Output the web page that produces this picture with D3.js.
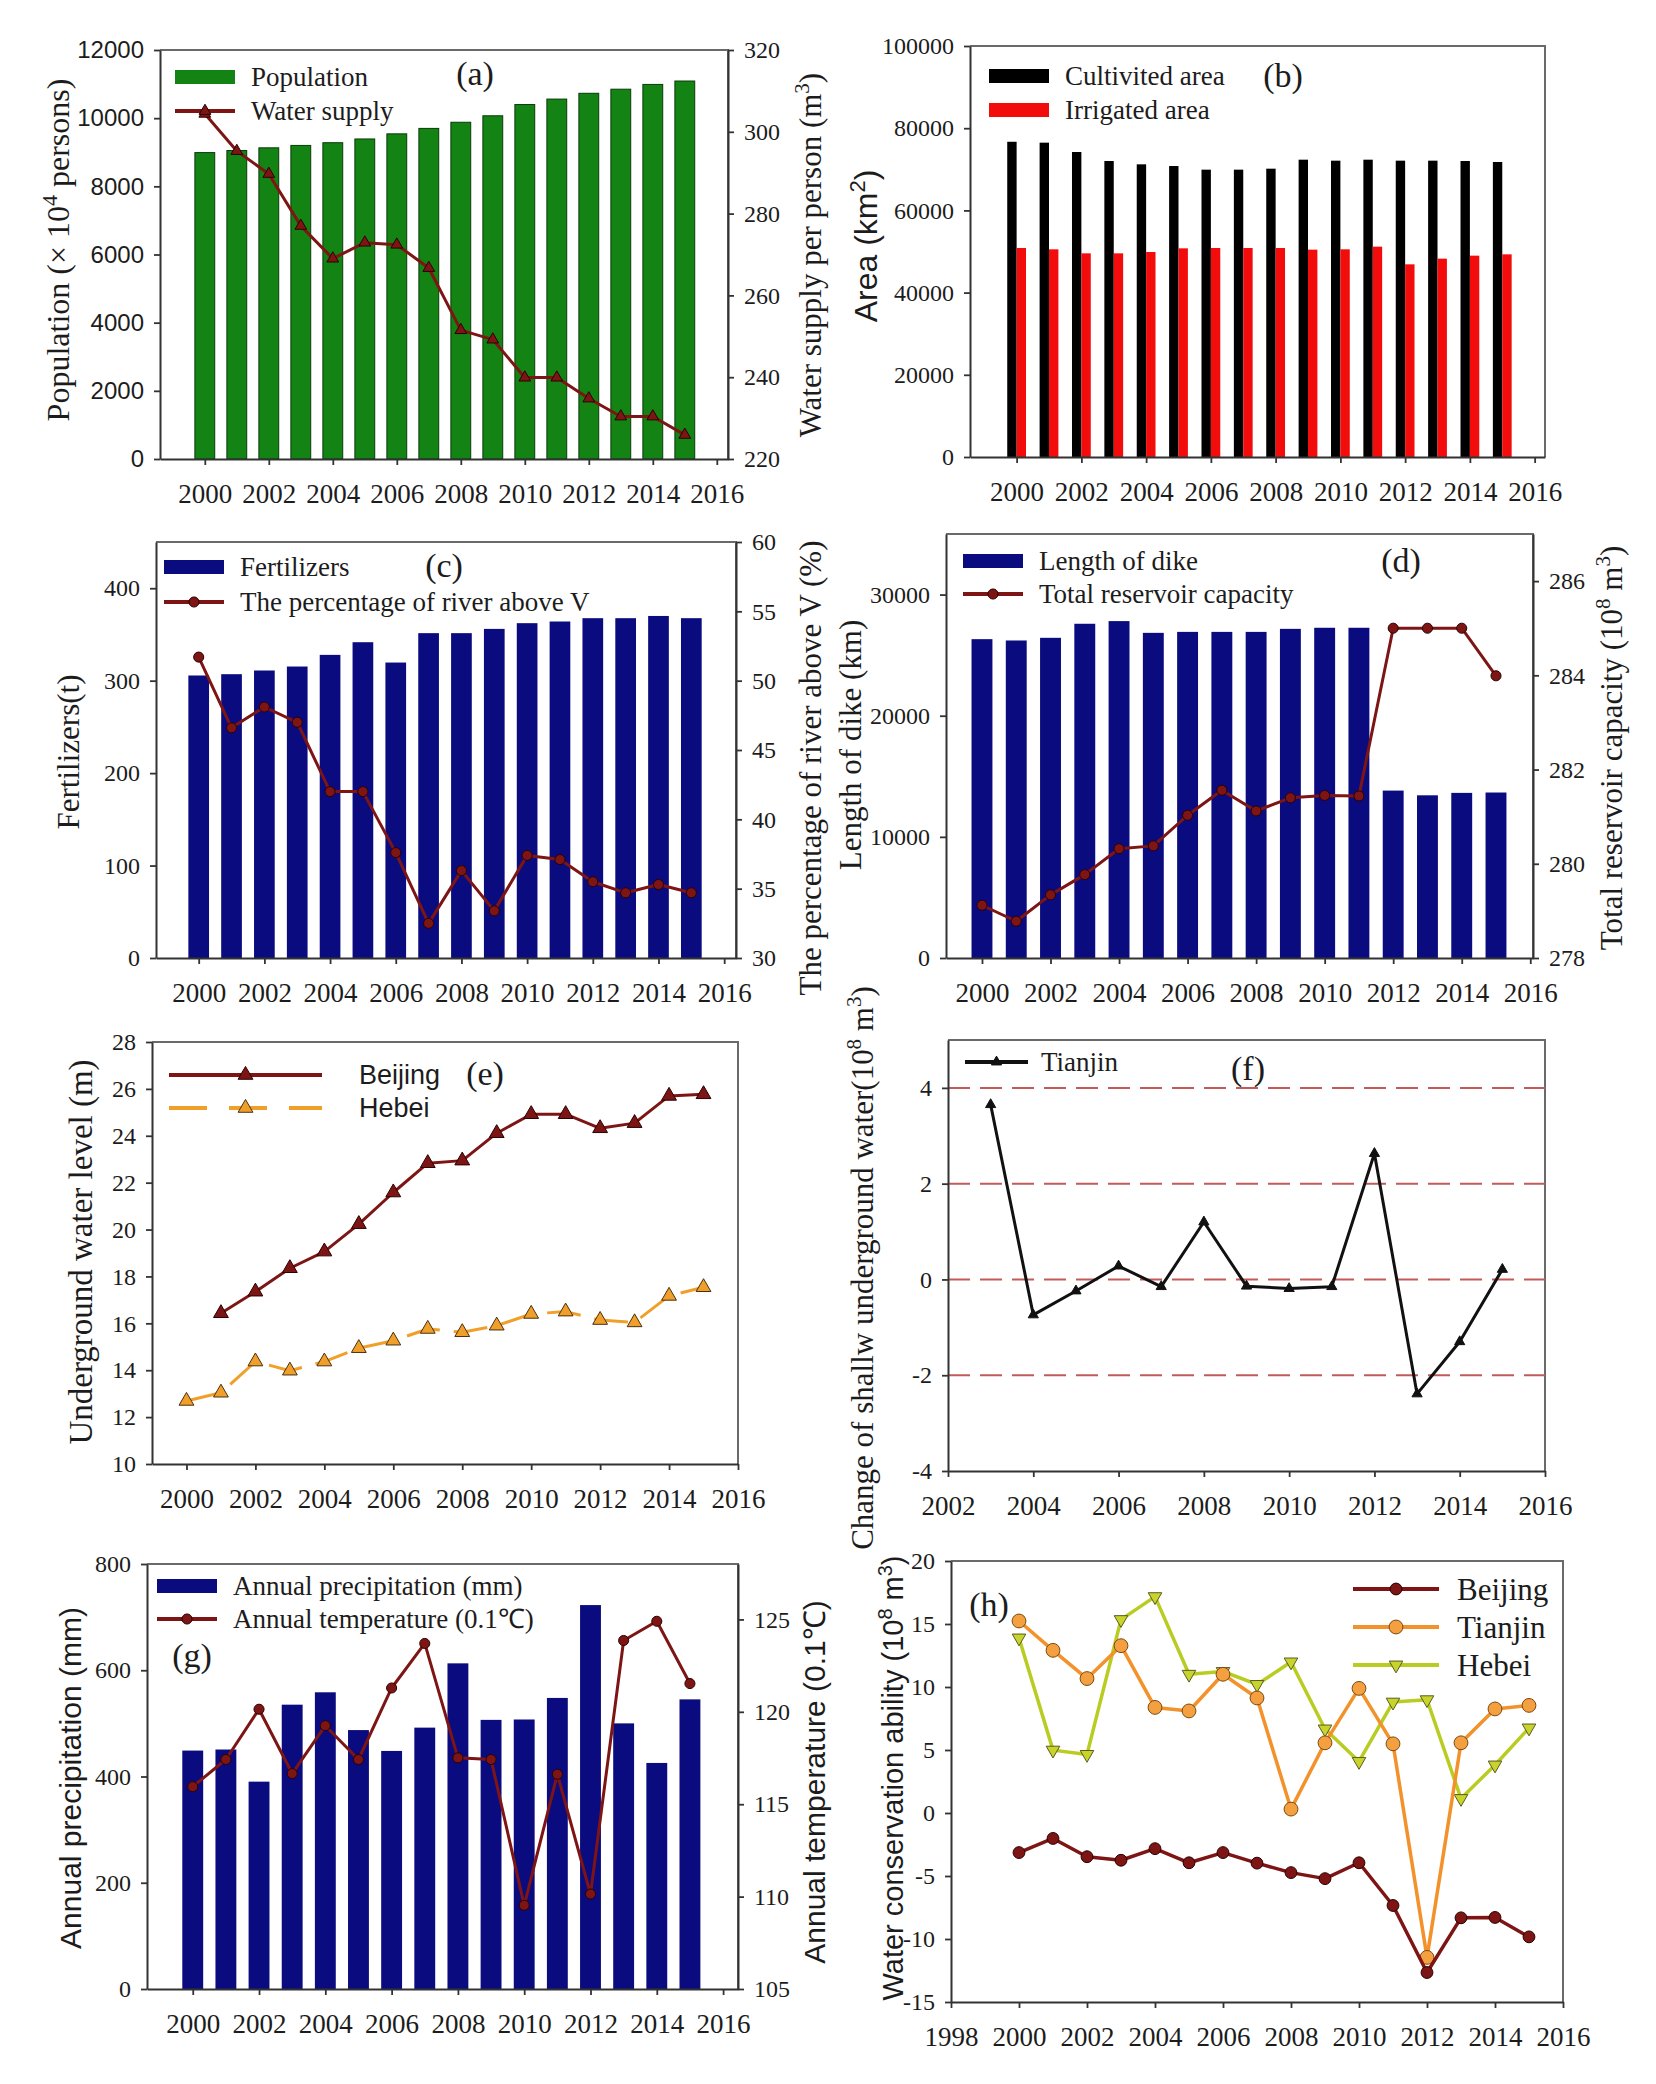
<!DOCTYPE html>
<html>
<head>
<meta charset="utf-8">
<title>Water resources figure</title>
<script src="https://cdn.jsdelivr.net/npm/d3@7"></script>
<style>
  body { margin: 0; background: #fff; }
  svg text { font-family: "Liberation Serif", "Times New Roman", serif; fill: #1c1c1c; }
</style>
</head>
<body>
<svg id="fig" width="1656" height="2084"></svg>
<script>
// ---- data ----
var years = [2000, 2001, 2002, 2003, 2004, 2005, 2006, 2007, 2008, 2009, 2010, 2011, 2012, 2013, 2014, 2015];

// (a)
var population = [8990, 9050, 9130, 9200, 9280, 9390, 9540, 9700, 9880, 10070, 10400, 10560, 10730, 10850, 10990, 11090];
var waterSupply = [304.4, 295.3, 289.7, 277.0, 269.0, 272.9, 272.4, 266.7, 251.5, 249.2, 239.9, 239.9, 234.8, 230.4, 230.4, 225.9];
// (b)
var cultivated = [76700, 76480, 74210, 72020, 71210, 70800, 69910, 69910, 70150, 72340, 72100, 72340, 72100, 72100, 72020, 71780];
var irrigated = [50850, 50530, 49550, 49550, 49880, 50770, 50850, 50850, 50850, 50450, 50530, 51180, 46880, 48260, 48990, 49310];
// (c)
var fertilizers = [305.6, 307, 311, 315.3, 327.9, 341.6, 319.6, 351.4, 351.4, 356, 362.2, 364, 367.6, 367.6, 370, 367.6];
var riverAboveV = [51.7, 46.6, 48.1, 47.0, 42.0, 42.0, 37.6, 32.5, 36.3, 33.4, 37.4, 37.1, 35.5, 34.7, 35.3, 34.7];
// (d)
var dikeLength = [26320, 26210, 26430, 27590, 27810, 26840, 26920, 26920, 26920, 27170, 27260, 27260, 13820, 13430, 13630, 13660];
var reservoir = [279.12, 278.78, 279.34, 279.77, 280.32, 280.38, 281.03, 281.56, 281.12, 281.40, 281.45, 281.44, 285.0, 285.0, 285.0, 283.99];
// (e)
var gwBeijing = [null, 16.43, 17.35, 18.35, 19.06, 20.23, 21.58, 22.83, 22.94, 24.11, 24.92, 24.92, 24.32, 24.54, 25.70, 25.77];
var gwHebei = [12.69, 13.04, 14.37, 13.98, 14.37, 14.94, 15.26, 15.76, 15.62, 15.90, 16.40, 16.50, 16.14, 16.04, 17.17, 17.54];
// (f)
var tjYears = [2003, 2004, 2005, 2006, 2007, 2008, 2009, 2010, 2011, 2012, 2013, 2014, 2015];
var tjShallow = [3.65, -0.74, -0.24, 0.28, -0.15, 1.20, -0.14, -0.19, -0.15, 2.63, -2.39, -1.30, 0.21];
var refLevels = [4, 2, 0, -2];
// (g)
var precip = [448.8, 450.8, 390.3, 535.2, 558.5, 487.4, 448.1, 492, 613, 506.6, 507.3, 547.9, 722.7, 500, 425.5, 545.2];
var temperature = [115.95, 117.42, 120.14, 116.66, 119.25, 117.42, 121.29, 123.70, 117.51, 117.42, 109.53, 116.62, 110.14, 123.86, 124.90, 121.53];
// (h)
var wcBeijing = [-3.14, -2.02, -3.47, -3.75, -2.83, -3.95, -3.14, -3.98, -4.73, -5.21, -3.95, -7.34, -12.66, -8.32, -8.29, -9.83];
var wcTianjin = [15.24, 12.91, 10.67, 13.28, 8.38, 8.10, 11.01, 9.13, 0.31, 5.57, 9.89, 5.49, -11.46, 5.57, 8.26, 8.54];
var wcHebei = [13.89, 4.99, 4.65, 15.35, 17.17, 11.01, 11.23, 10.20, 11.99, 6.67, 4.09, 8.80, 8.99, 1.15, 3.81, 6.75];

// tick labels
var yearTicks = [2000, 2002, 2004, 2006, 2008, 2010, 2012, 2014, 2016];
var yearTicksF = [2002, 2004, 2006, 2008, 2010, 2012, 2014, 2016];
var yearTicksH = [1998, 2000, 2002, 2004, 2006, 2008, 2010, 2012, 2014, 2016];
var popTicks = [0, 2000, 4000, 6000, 8000, 10000, 12000];
var supplyTicks = [220, 240, 260, 280, 300, 320];
var areaTicks = [0, 20000, 40000, 60000, 80000, 100000];
var fertTicks = [0, 100, 200, 300, 400];
var pctTicks = [30, 35, 40, 45, 50, 55, 60];
var dikeTicks = [0, 10000, 20000, 30000];
var resTicks = [278, 280, 282, 284, 286];
var gwTicks = [10, 12, 14, 16, 18, 20, 22, 24, 26, 28];
var shallowTicks = [-4, -2, 0, 2, 4];
var precTicks = [0, 200, 400, 600, 800];
var tempTicks = [105, 110, 115, 120, 125];
var wcTicks = [-15, -10, -5, 0, 5, 10, 15, 20];

var SERIF = '"Liberation Serif", "Times New Roman", serif';
var SANS = '"Liberation Sans", Arial, sans-serif';
var DARKRED = "#7d1515", NAVY = "#0b0b80", GREEN = "#138313";

var svg = d3.select("#fig");
var plain = function(d) { return String(d); };

function styleAxis(sel, size, font) {
  sel.attr("font-family", null);
  sel.select(".domain").attr("stroke", "#333").attr("stroke-width", 2);
  sel.selectAll(".tick line").attr("stroke", "#333").attr("stroke-width", 1.8);
  sel.selectAll(".tick text").style("font-size", size + "px").style("font-family", font || SERIF).attr("fill", "#1c1c1c");
}

function panel(p) {
  var g = svg.append("g");
  var x = d3.scaleLinear().domain(p.xd).range([p.L, p.R]);
  var y = d3.scaleLinear().domain(p.yd).range([p.B, p.T]);
  var y2 = p.y2d ? d3.scaleLinear().domain(p.y2d).range([p.B, p.T]) : null;
  g.append("path")
      .attr("d", "M" + p.L + "," + p.T + "H" + p.R + "V" + p.B)
      .attr("fill", "none").attr("stroke", "#6a6a6a").attr("stroke-width", 2);
  var marks = g.append("g");
  g.append("g").attr("transform", "translate(0," + p.B + ")")
      .call(d3.axisBottom(x).tickValues(p.xt).tickFormat(plain).tickSize(6).tickSizeOuter(0).tickPadding(19))
      .call(styleAxis, 27);
  g.append("g").attr("transform", "translate(" + p.L + ",0)")
      .call(d3.axisLeft(y).tickValues(p.yt).tickFormat(plain).tickSize(6).tickSizeOuter(0).tickPadding(10))
      .call(styleAxis, 24, p.yFont);
  if (y2) {
    g.append("g").attr("transform", "translate(" + p.R + ",0)")
        .call(d3.axisRight(y2).tickValues(p.y2t).tickFormat(plain).tickSize(6).tickSizeOuter(0).tickPadding(10))
        .call(styleAxis, 24);
  }
  return { g: marks, top: g, x: x, y: y, y2: y2, p: p };
}

function vtitle(cx, cy, parts, font, size) {
  var t = svg.append("text")
      .attr("transform", "translate(" + cx + "," + cy + ") rotate(-90)")
      .attr("text-anchor", "middle").attr("dy", "0.35em")
      .style("font-family", font).style("font-size", size + "px");
  parts.forEach(function(s) {
    if (typeof s === "string") t.append("tspan").text(s);
    else t.append("tspan").attr("baseline-shift", "super").style("font-size", Math.round(size * 0.68) + "px").text(s.sup);
  });
}

function label(x, y, txt, size, font) {
  svg.append("text").attr("x", x).attr("y", y).attr("dy", "0.35em")
      .style("font-size", size + "px").style("font-family", font || SERIF).text(txt);
}

function letter(x, y, txt) {
  svg.append("text").attr("x", x).attr("y", y).attr("dy", "0.35em").attr("text-anchor", "middle")
      .style("font-size", "34px").text(txt);
}

function bars(P, vals, color, frac, offset, stroke) {
  var w = (P.x(1) - P.x(0)) * frac;
  P.g.selectAll(null).data(years).enter().append("rect")
      .attr("x", function(d) { return P.x(d) + offset * w - w / 2; })
      .attr("y", function(d, i) { return P.y(vals[i]); })
      .attr("width", w)
      .attr("height", function(d, i) { return P.y(0) - P.y(vals[i]); })
      .attr("fill", color)
      .attr("stroke", stroke || "none").attr("stroke-width", stroke ? 1 : 0);
}

function series(P, xs, vals, ys, opt) {
  var pts = xs.map(function(d, i) { return [d, vals[i]]; }).filter(function(d) { return d[1] != null; });
  P.g.append("path").datum(pts)
      .attr("d", d3.line().x(function(d) { return P.x(d[0]); }).y(function(d) { return ys(d[1]); }))
      .attr("fill", "none").attr("stroke", opt.color).attr("stroke-width", opt.width || 3)
      .attr("stroke-dasharray", opt.dash || null).attr("stroke-linejoin", "round");
  var sym = d3.symbol().type(opt.shape).size(opt.size);
  P.g.selectAll(null).data(pts).enter().append("path")
      .attr("d", sym)
      .attr("transform", function(d) { return "translate(" + P.x(d[0]) + "," + ys(d[1]) + ")" + (opt.rot ? " rotate(180)" : ""); })
      .attr("fill", opt.fill).attr("stroke", opt.mstroke || "#2a0000").attr("stroke-width", 1);
}

function legendRect(x, y, color, txt, size, font) {
  svg.append("rect").attr("x", x).attr("y", y - 7).attr("width", 60).attr("height", 14).attr("fill", color);
  label(x + 76, y, txt, size || 27, font);
}

function legendLine(x, y, len, opt, txt, tx, size, font) {
  svg.append("line").attr("x1", x).attr("x2", x + len).attr("y1", y).attr("y2", y)
      .attr("stroke", opt.color).attr("stroke-width", opt.lw || 4).attr("stroke-dasharray", opt.dash || null);
  svg.append("path").attr("d", d3.symbol().type(opt.shape).size(opt.size))
      .attr("transform", "translate(" + (x + len / 2) + "," + y + ")" + (opt.rot ? " rotate(180)" : ""))
      .attr("fill", opt.fill).attr("stroke", opt.mstroke || "#2a0000").attr("stroke-width", 1);
  label(tx, y, txt, size || 27, font);
}

// ---- (a) ----
var A = panel({ L: 160, R: 728, T: 50, B: 459, xd: [1998.6, 2016.35], xt: yearTicks,
  yd: [0, 12000], yt: popTicks, yFont: SANS, y2d: [220, 320], y2t: supplyTicks });
bars(A, population, GREEN, 0.62, 0, "#0a3a0a");
series(A, years, waterSupply, A.y2, { color: DARKRED, shape: d3.symbolTriangle, size: 60, fill: DARKRED });
legendRect(175, 77, GREEN, "Population");
legendLine(175, 111, 60, { color: DARKRED, shape: d3.symbolTriangle, size: 60, fill: DARKRED }, "Water supply", 251);
letter(475, 73, "(a)");
vtitle(58, 250, ["Population (× 10", { sup: "4" }, " persons)"], SERIF, 32);
vtitle(810, 255, ["Water supply per person (m", { sup: "3" }, ")"], SERIF, 31);

// ---- (b) ----
var B = panel({ L: 970, R: 1545, T: 46, B: 457, xd: [1998.56, 2016.32], xt: yearTicks,
  yd: [0, 100000], yt: areaTicks });
bars(B, cultivated, "#000", 0.29, -0.5);
bars(B, irrigated, "#f20c0c", 0.29, 0.5);
legendRect(989, 76, "#000", "Cultivited area");
legendRect(989, 110, "#f20c0c", "Irrigated area");
letter(1283, 75, "(b)");
vtitle(866, 246, ["Area (km", { sup: "2" }, ")"], SANS, 32);

// ---- (c) ----
var C = panel({ L: 156, R: 736, T: 542, B: 958, xd: [1998.7, 2016.36], xt: yearTicks,
  yd: [0, 450], yt: fertTicks, y2d: [30, 60], y2t: pctTicks });
bars(C, fertilizers, NAVY, 0.63, 0);
series(C, years, riverAboveV, C.y2, { color: DARKRED, shape: d3.symbolCircle, size: 80, fill: DARKRED });
legendRect(164, 567, NAVY, "Fertilizers");
legendLine(164, 602, 60, { color: DARKRED, shape: d3.symbolCircle, size: 80, fill: DARKRED }, "The percentage of river above  V", 240);
letter(444, 565, "(c)");
vtitle(68, 752, ["Fertilizers(t)"], SERIF, 31);
vtitle(810, 768, ["The percentage of river above  V (%)"], SERIF, 31);

// ---- (d) ----
var D = panel({ L: 946, R: 1533, T: 534, B: 958, xd: [1998.95, 2016.08], xt: yearTicks,
  yd: [0, 35000], yt: dikeTicks, y2d: [278, 287], y2t: resTicks });
bars(D, dikeLength, NAVY, 0.61, 0);
series(D, years, reservoir, D.y2, { color: DARKRED, shape: d3.symbolCircle, size: 80, fill: DARKRED });
legendRect(963, 561, NAVY, "Length of dike");
legendLine(963, 594, 60, { color: DARKRED, shape: d3.symbolCircle, size: 80, fill: DARKRED }, "Total reservoir capacity", 1039);
letter(1401, 560, "(d)");
vtitle(850, 745, ["Length of dike (km)"], SERIF, 31);
vtitle(1611, 748, ["Total reservoir capacity (10", { sup: "8" }, " m", { sup: "3" }, ")"], SERIF, 31);

// ---- (e) ----
var E = panel({ L: 152, R: 738, T: 1042, B: 1464, xd: [1999, 2016], xt: yearTicks,
  yd: [10, 28], yt: gwTicks });
series(E, years, gwHebei, E.y, { color: "#f0a02a", width: 3, dash: "34,14", shape: d3.symbolTriangle, size: 95, fill: "#f0a02a", mstroke: "#4a3010" });
series(E, years, gwBeijing, E.y, { color: DARKRED, width: 3, shape: d3.symbolTriangle, size: 95, fill: DARKRED });
legendLine(169, 1075, 153, { color: DARKRED, lw: 4, shape: d3.symbolTriangle, size: 95, fill: DARKRED }, "Beijing", 359, 27, SANS);
legendLine(169, 1108, 153, { color: "#f0a02a", lw: 4, dash: "38,22", shape: d3.symbolTriangle, size: 95, fill: "#f0a02a", mstroke: "#4a3010" }, "Hebei", 359, 27, SANS);
letter(485, 1073, "(e)");
vtitle(80, 1252, ["Underground water level (m)"], SERIF, 33);

// ---- (f) ----
var F = panel({ L: 948, R: 1545, T: 1040, B: 1471, xd: [2002, 2016], xt: yearTicksF,
  yd: [-4, 5], yt: shallowTicks });
F.g.selectAll(null).data(refLevels).enter().append("line")
    .attr("x1", F.x(2002)).attr("x2", F.x(2016))
    .attr("y1", function(d) { return F.y(d); }).attr("y2", function(d) { return F.y(d); })
    .attr("stroke", "#c25a5a").attr("stroke-width", 2).attr("stroke-dasharray", "22,10");
series(F, tjYears, tjShallow, F.y, { color: "#111", width: 3, shape: d3.symbolTriangle, size: 45, fill: "#111", mstroke: "#111" });
legendLine(965, 1062, 63, { color: "#111", lw: 4, shape: d3.symbolTriangle, size: 45, fill: "#111", mstroke: "#111" }, "Tianjin", 1041);
letter(1248, 1068, "(f)");
vtitle(862, 1268, ["Change of shallw underground water(10", { sup: "8" }, " m", { sup: "3" }, ")"], SERIF, 31);

// ---- (g) ----
var G = panel({ L: 147, R: 738, T: 1564, B: 1989, xd: [1998.62, 2016.45], xt: yearTicks,
  yd: [0, 800], yt: precTicks, y2d: [105, 128], y2t: tempTicks });
bars(G, precip, NAVY, 0.63, 0);
series(G, years, temperature, G.y2, { color: DARKRED, width: 3, shape: d3.symbolCircle, size: 80, fill: DARKRED });
legendRect(157, 1586, NAVY, "Annual precipitation (mm)");
legendLine(157, 1619, 60, { color: DARKRED, shape: d3.symbolCircle, size: 80, fill: DARKRED }, "Annual temperature (0.1℃)", 233);
letter(192, 1655, "(g)");
vtitle(70, 1778, ["Annual precipitation (mm)"], SANS, 30);
vtitle(814, 1782, ["Annual temperature (0.1℃)"], SANS, 30);

// ---- (h) ----
var H = panel({ L: 951, R: 1563, T: 1561, B: 2002, xd: [1998, 2016], xt: yearTicksH,
  yd: [-15, 20], yt: wcTicks });
series(H, years, wcHebei, H.y, { color: "#b9cc22", width: 3.5, shape: d3.symbolTriangle, size: 80, rot: true, fill: "#c8d42c", mstroke: "#5a5a20" });
series(H, years, wcTianjin, H.y, { color: "#f3922a", width: 3.5, shape: d3.symbolCircle, size: 150, fill: "#f5a040", mstroke: "#7a4a10" });
series(H, years, wcBeijing, H.y, { color: DARKRED, width: 3.5, shape: d3.symbolCircle, size: 110, fill: DARKRED });
legendLine(1353, 1589, 86, { color: DARKRED, shape: d3.symbolCircle, size: 110, fill: DARKRED }, "Beijing", 1457, 31);
legendLine(1353, 1627, 86, { color: "#f3922a", shape: d3.symbolCircle, size: 150, fill: "#f5a040", mstroke: "#7a4a10" }, "Tianjin", 1457, 31);
legendLine(1353, 1665, 86, { color: "#b9cc22", shape: d3.symbolTriangle, size: 80, rot: true, fill: "#c8d42c", mstroke: "#5a5a20" }, "Hebei", 1457, 31);
letter(989, 1604, "(h)");
vtitle(893, 1778, ["Water conservation ability (10", { sup: "8" }, " m", { sup: "3" }, ")"], SANS, 29);
</script>
</body>
</html>
